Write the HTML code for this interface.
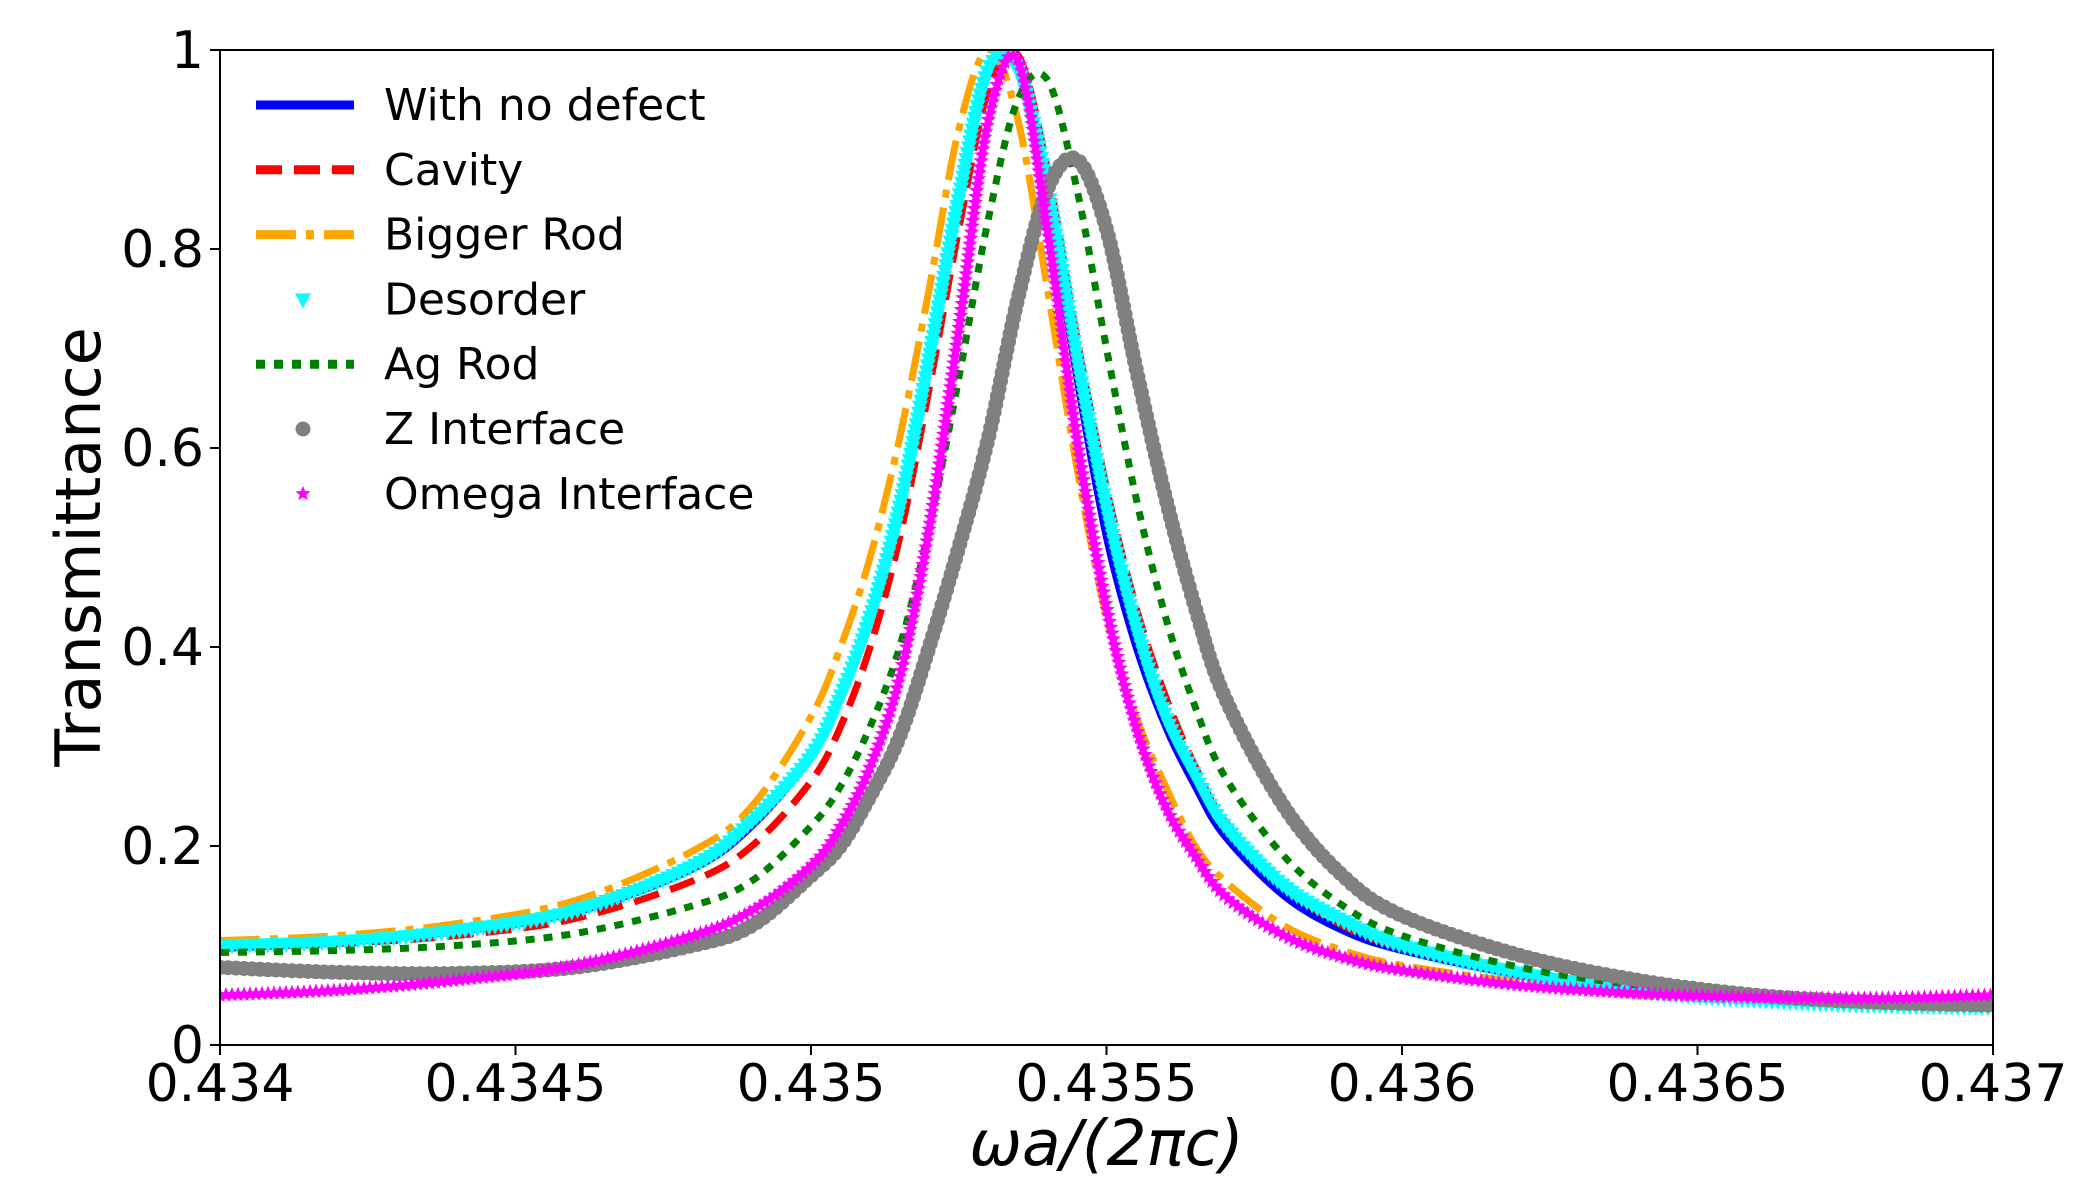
<!DOCTYPE html>
<html><head><meta charset="utf-8"><style>
html,body{margin:0;padding:0;background:#fff;}
svg{display:block;font-family:"DejaVu Sans","Liberation Sans",sans-serif;}
</style></head><body>
<svg id="chart" width="2081" height="1193" viewBox="0 0 2081 1193" xmlns="http://www.w3.org/2000/svg">
<defs><clipPath id="clip"><rect x="220" y="50" width="1773" height="995"/></clipPath></defs>
<g id="plot" clip-path="url(#clip)"></g>
<g id="axes"></g>
<g id="legend"></g>
</svg>
<script>
const xs = [0.4340,0.4342,0.4344,0.4346,0.4348,0.4349,0.4350,0.43505,0.4351,0.43515,0.4352,0.43525,0.4353,0.43535,0.4354,0.43545,0.4355,0.43555,0.4356,0.43565,0.4357,0.4358,0.4359,0.4360,0.4362,0.4364,0.4366,0.4368,0.4370];
const noDefect = [0.097,0.103,0.114,0.133,0.177,0.22,0.29,0.35,0.43,0.54,0.69,0.85,0.98,0.98,0.85,0.67,0.51,0.40,0.32,0.26,0.21,0.15,0.115,0.095,0.07,0.055,0.047,0.043,0.04];
const cavity = [0.098,0.102,0.11,0.127,0.165,0.2,0.265,0.32,0.40,0.51,0.66,0.82,0.96,0.995,0.88,0.71,0.56,0.44,0.35,0.28,0.225,0.16,0.12,0.098,0.072,0.056,0.047,0.043,0.04];
const biggerRod = [0.105,0.11,0.122,0.145,0.195,0.24,0.33,0.40,0.49,0.61,0.76,0.92,1.0,0.93,0.76,0.58,0.43,0.33,0.26,0.2,0.165,0.12,0.095,0.08,0.063,0.05,0.044,0.041,0.04];
const desorder = [0.1,0.104,0.115,0.135,0.18,0.225,0.29,0.35,0.43,0.54,0.69,0.85,0.98,0.98,0.86,0.69,0.54,0.42,0.33,0.27,0.22,0.16,0.125,0.1,0.072,0.054,0.045,0.04,0.038];
const agRod = [0.093,0.095,0.1,0.112,0.14,0.165,0.22,0.26,0.32,0.40,0.52,0.67,0.83,0.95,0.97,0.86,0.70,0.55,0.43,0.34,0.27,0.19,0.14,0.11,0.078,0.06,0.05,0.045,0.042];
const zInterface = [0.078,0.073,0.072,0.078,0.1,0.12,0.17,0.2,0.25,0.31,0.40,0.50,0.61,0.75,0.86,0.89,0.82,0.68,0.55,0.44,0.35,0.24,0.17,0.13,0.09,0.065,0.05,0.043,0.04];
const omegaInterface = [0.05,0.055,0.065,0.08,0.11,0.135,0.18,0.22,0.28,0.37,0.52,0.72,0.93,0.99,0.82,0.61,0.44,0.32,0.24,0.19,0.15,0.11,0.088,0.075,0.06,0.052,0.048,0.047,0.05];
const xTicks = [0.434,0.4345,0.435,0.4355,0.436,0.4365,0.437];
const xTickLabels = ["0.434","0.4345","0.435","0.4355","0.436","0.4365","0.437"];
const yTicks = [0,0.2,0.4,0.6,0.8,1];
const yTickLabels = ["0","0.2","0.4","0.6","0.8","1"];
const seriesNames = ["With no defect","Cavity","Bigger Rod","Desorder","Ag Rod","Z Interface","Omega Interface"];

const L=220,R=1993,T=50,B=1045;
const sx=v=>L+(v-0.434)/0.003*(R-L);
const sy=v=>B-v*(B-T);
const NS="http://www.w3.org/2000/svg";
function mk(tag,attrs,parent){const e=document.createElementNS(NS,tag);for(const k in attrs)e.setAttribute(k,attrs[k]);parent.appendChild(e);return e;}
const plot=document.getElementById('plot'),axes=document.getElementById('axes'),legend=document.getElementById('legend');
function pathD(ys){const n=ys.length;
  const p=xs.map((x,i)=>[sx(x),sy(ys[i])]);
  let d="M"+p[0][0]+","+p[0][1];
  for(let i=0;i<n-1;i++){const p0=p[Math.max(0,i-1)],p1=p[i],p2=p[i+1],p3=p[Math.min(n-1,i+2)];
    const c1=[p1[0]+(p2[0]-p0[0])/6,p1[1]+(p2[1]-p0[1])/6],c2=[p2[0]-(p3[0]-p1[0])/6,p2[1]-(p3[1]-p1[1])/6];
    d+=" C"+c1+" "+c2+" "+p2;}
  return d;}
function lineSeries(ys,color,dash,name){const el=mk('path',{d:pathD(ys),fill:'none',stroke:color,'stroke-width':7,'stroke-dasharray':dash||'none'},plot);

return el;}
function markerSeries(ys,color,shape,name,step){const g=mk('g',{fill:color},plot);


const p=mk('path',{d:pathD(ys),fill:'none',stroke:'none'},plot);const len=p.getTotalLength();
for(let s=0;s<=len;s+=step){const q=p.getPointAtLength(s);drawMarker(g,q.x,q.y,shape,color);}
p.remove();}
function drawMarker(g,x,y,shape,color){let e;
if(shape==='tri')e=mk('polygon',{points:`${x-8},${y-6} ${x+8},${y-6} ${x},${y+9}`},g);
else if(shape==='circ')e=mk('circle',{cx:x,cy:y,r:7.5},g);
else{let pts=[];for(let i=0;i<10;i++){const r=i%2?3.5:8,a=-Math.PI/2+i*Math.PI/5;pts.push((x+r*Math.cos(a))+","+(y+r*Math.sin(a)));}e=mk('polygon',{points:pts.join(' ')},g);}
return e;}
lineSeries(noDefect,'#0000ff',null,'series-with-no-defect');
lineSeries(cavity,'#ff0000','26,12','series-cavity');
lineSeries(biggerRod,'#ffa500','40,10,8,10','series-bigger-rod');
markerSeries(desorder,'#00ffff','tri','series-desorder',6);
lineSeries(agRod,'#008000','9,9','series-ag-rod');
markerSeries(zInterface,'#808080','circ','series-z-interface',8);
markerSeries(omegaInterface,'#ff00ff','star','series-omega-interface',6);

mk('rect',{x:L,y:T,width:R-L,height:B-T,fill:'none',stroke:'#000','stroke-width':2},axes);
xTicks.forEach((v,i)=>{const x=sx(v);
 mk('line',{x1:x,y1:B,x2:x,y2:B+10,stroke:'#000','stroke-width':2},axes);
 const t=mk('text',{x:x,y:B+56,'font-size':52,'text-anchor':'middle'},axes);t.textContent=xTickLabels[i];
 
 });
yTicks.forEach((v,i)=>{const y=sy(v);
 mk('line',{x1:L-10,y1:y,x2:L,y2:y,stroke:'#000','stroke-width':2},axes);
 const t=mk('text',{x:L-16,y:y+18,'font-size':52,'text-anchor':'end'},axes);t.textContent=yTickLabels[i];
 
 });
const xl=mk('text',{x:(L+R)/2,y:1165,'font-size':63,'text-anchor':'middle','font-style':'italic'},axes);xl.textContent='ωa/(2πc)';


const yl=mk('text',{x:0,y:0,'font-size':62,'text-anchor':'middle',transform:'translate(100,547) rotate(-90)'},axes);yl.textContent='Transmittance';



const styles=[['line','#0000ff','none'],['line','#ff0000','26,12'],['line','#ffa500','40,10,8,10'],['tri','#00ffff'],['line','#008000','9,9'],['circ','#808080'],['star','#ff00ff']];
seriesNames.forEach((n,i)=>{const y=105+i*64.8;const g=mk('g',{},legend);
 
 
 const s=styles[i];
 if(s[0]==='line')mk('line',{x1:256,y1:y,x2:354,y2:y,stroke:s[1],'stroke-width':9,'stroke-dasharray':s[2]},g);
 else drawMarker(g,303,y,s[0],s[1]).setAttribute('fill',s[1]);
 const t=mk('text',{x:384,y:y+15,'font-size':44},g);t.textContent=n;});
</script>
</body></html>
